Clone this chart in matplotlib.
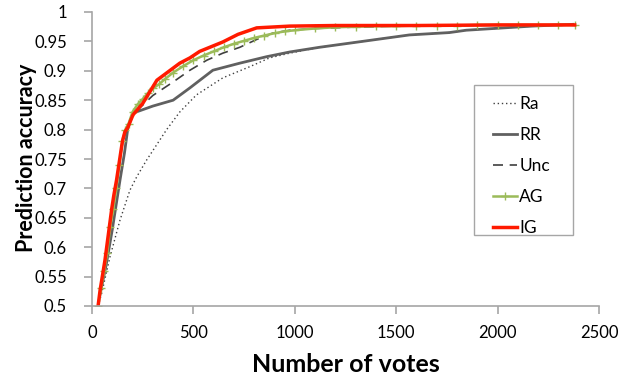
import matplotlib
matplotlib.use("Agg")
import matplotlib.pyplot as plt
from matplotlib.patches import Rectangle

plt.rcParams['font.family'] = ['Lato', 'DejaVu Sans']

# Data
ra_x = [30, 48, 89, 138, 187, 221, 269, 368, 433, 515, 645, 778, 876, 975, 1122, 1270, 1565, 1762, 1845, 2170, 2370]
ra_y = [0.50, 0.522, 0.584, 0.646, 0.697, 0.72, 0.748, 0.80, 0.83, 0.859, 0.888, 0.907, 0.922, 0.930, 0.940, 0.947, 0.961, 0.965, 0.969, 0.976, 0.979]

rr_x = [39, 70, 100, 138, 160, 177, 202, 300, 400, 483, 596, 729, 861, 975, 1122, 1270, 1565, 1762, 1845, 2170, 2370]
rr_y = [0.519, 0.57, 0.63, 0.714, 0.76, 0.803, 0.828, 0.840, 0.850, 0.871, 0.901, 0.913, 0.924, 0.932, 0.940, 0.947, 0.961, 0.965, 0.969, 0.976, 0.979]

unc_x = [30, 40, 64, 80, 98, 121, 150, 177, 202, 236, 300, 400, 483, 566, 645, 729, 810, 891, 975, 1100, 1270, 1500, 1800, 2100, 2380]
unc_y = [0.50, 0.527, 0.578, 0.62, 0.667, 0.714, 0.78, 0.804, 0.825, 0.837, 0.858, 0.881, 0.901, 0.918, 0.930, 0.940, 0.953, 0.964, 0.969, 0.972, 0.974, 0.976, 0.977, 0.978, 0.978]

ag_x = [30, 45, 60, 75, 90, 105, 120, 135, 150, 165, 180, 200, 225, 250, 275, 300, 330, 360, 400, 450,
        500, 550, 600, 650, 700, 750, 800, 850, 900, 950, 1000, 1100, 1200, 1300, 1400, 1500, 1600, 1700,
        1800, 1900, 2000, 2100, 2200, 2300, 2380]
ag_y = [0.50, 0.53, 0.56, 0.59, 0.635, 0.665, 0.70, 0.74, 0.78, 0.80, 0.81, 0.83, 0.843, 0.852, 0.862, 0.870, 0.877,
        0.886, 0.897, 0.908, 0.918, 0.926, 0.933, 0.940, 0.946, 0.951, 0.956, 0.960, 0.964, 0.967, 0.969, 0.972,
        0.974, 0.975, 0.976, 0.976, 0.977, 0.977, 0.977, 0.978, 0.978, 0.978, 0.978, 0.978, 0.978]

ig_x = [30, 40, 64, 80, 98, 108, 121, 150, 162, 177, 202, 251, 320, 433, 483, 531, 645, 720, 812, 975, 1200, 1600, 2000, 2380]
ig_y = [0.50, 0.527, 0.578, 0.62, 0.667, 0.689, 0.714, 0.78, 0.796, 0.804, 0.825, 0.845, 0.884, 0.913, 0.922, 0.933, 0.949, 0.962, 0.973, 0.976, 0.977, 0.977, 0.978, 0.978]

x_ticks = [0, 500, 1000, 1500, 2000, 2500]
y_ticks = [0.5, 0.55, 0.6, 0.65, 0.7, 0.75, 0.8, 0.85, 0.9, 0.95, 1.0]
y_labels = ["0.5", "0.55", "0.6", "0.65", "0.7", "0.75", "0.8", "0.85", "0.9", "0.95", "1"]

W, H = 631, 376
fig = plt.figure(figsize=(W / 100, H / 100), dpi=100)
ax = fig.add_axes([92/W, 1 - 306/H, (599 - 92)/W, (306 - 12)/H])

ax.plot(ra_x, ra_y, color='#404040', lw=1.0, ls=(0, (1, 2)), label='Ra')
ax.plot(rr_x, rr_y, color='#606060', lw=2.0, label='RR')
ax.plot(unc_x, unc_y, color='#404040', lw=1.2, ls=(0, (6, 4)), label='Unc')
ax.plot(ag_x, ag_y, color='#9BBB59', lw=1.8, marker='+', ms=6, mew=1.0, label='AG')
ax.plot(ig_x, ig_y, color='#FF1A00', lw=2.5, label='IG')

ax.set_xlim(0, 2500)
ax.set_ylim(0.5, 1.0)
ax.set_xticks(x_ticks)
ax.set_xticklabels([str(t) for t in x_ticks])
ax.set_yticks(y_ticks)
ax.set_yticklabels(y_labels)

for s in ['top', 'right']:
    ax.spines[s].set_visible(False)
for s in ['left', 'bottom']:
    ax.spines[s].set_color('#A6A6A6')
    ax.spines[s].set_linewidth(1.2)
ax.tick_params(axis='both', colors='#A6A6A6', labelcolor='black', labelsize=12, length=6, width=1.2, direction='out')
ax.tick_params(axis='x', pad=8)
ax.tick_params(axis='y', pad=12)

ax.set_xlabel('Number of votes', fontsize=18, fontweight='bold', labelpad=8)
ax.set_ylabel('Prediction accuracy', fontsize=15.5, fontweight='bold')
ax.yaxis.set_label_coords(-0.108, 0.505)

# legend frame (drawn separately to match the reference box size)
frame = Rectangle((474/W, 1 - 235/H), (573 - 474)/W, (235 - 85)/H,
                  transform=fig.transFigure, facecolor='white', edgecolor='#A6A6A6',
                  lw=1.0, zorder=4)
ax.add_patch(frame)
leg = ax.legend(loc='upper left', bbox_to_anchor=(493/W, 1 - 96/H), bbox_transform=fig.transFigure,
                fontsize=12.5, frameon=False, handlelength=1.4, handletextpad=0.12,
                borderpad=0, labelspacing=0.86, borderaxespad=0)
leg.set_zorder(5)

fig.savefig('out.png', dpi=100)
